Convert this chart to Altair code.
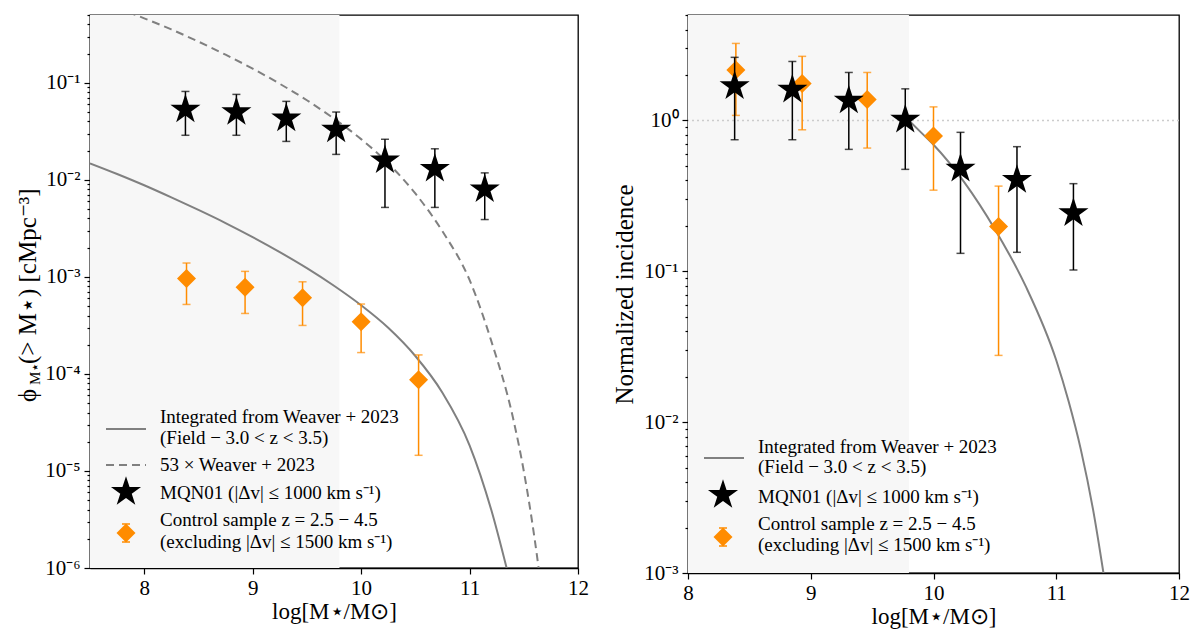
import altair as alt
import pandas as pd

# ---- values ----
mass_limit = 9.8

star_x = [8.38, 8.85, 9.31, 9.77, 10.22, 10.68, 11.14]
star_phi = [0.053, 0.050, 0.043, 0.033, 0.0159, 0.0130, 0.0080]
star_phi_lo = [0.0288, 0.0288, 0.0249, 0.0183, 0.0052, 0.0052, 0.0039]
star_phi_hi = [0.0815, 0.076, 0.0644, 0.050, 0.0262, 0.0209, 0.0118]

ctrl_x = [8.39, 8.93, 9.46, 10.0, 10.53]
ctrl_phi = [9.6e-4, 7.8e-4, 6.1e-4, 3.45e-4, 8.7e-5]
ctrl_phi_lo = [5.2e-4, 4.2e-4, 3.16e-4, 1.66e-4, 1.45e-5]
ctrl_phi_hi = [1.39e-3, 1.14e-3, 8.9e-4, 5.25e-4, 1.57e-4]

star_inc = [1.685, 1.60, 1.355, 1.013, 0.479, 0.403, 0.243]
star_inc_lo = [0.745, 0.745, 0.643, 0.474, 0.1315, 0.1336, 0.102]
star_inc_hi = [2.62, 2.46, 2.08, 1.62, 0.834, 0.67, 0.381]

ctrl_inc = [2.16, 1.76, 1.376, 0.788, 0.198]
ctrl_inc_lo = [1.08, 0.867, 0.656, 0.345, 0.0277]
ctrl_inc_hi = [3.24, 2.66, 2.08, 1.23, 0.367]

# integrated Weaver+2023 curve (left panel)
weaver_x = [7.5, 7.75, 8.0, 8.25, 8.5, 8.75, 9.0, 9.25, 9.5, 9.75,
            10.0, 10.25, 10.5, 10.75, 11.0, 11.2, 11.36]
weaver_phi = [1.48e-2, 1.15e-2, 8.8e-3, 6.6e-3, 4.9e-3, 3.59e-3, 2.57e-3, 1.80e-3,
              1.23e-3, 8.1e-4, 5.1e-4, 2.99e-4, 1.53e-4, 6.4e-5, 1.84e-5, 3.98e-6, 8.3e-7]

# 53 x Weaver+2023 (dashed)
scaled_x = [7.85, 8.0, 8.25, 8.5, 8.75, 9.0, 9.25, 9.5, 9.75, 10.0,
            10.25, 10.5, 10.75, 11.0, 11.2, 11.4, 11.5, 11.6, 11.68]
scaled_phi = [0.537, 0.462, 0.355, 0.266, 0.195, 0.140, 0.0977, 0.0661, 0.0427, 0.0263,
              0.0148, 7.24e-3, 2.95e-3, 9.3e-4, 2.19e-4, 3.55e-5, 1.0e-5, 2.0e-6, 4.2e-7]

# normalised curve (right panel)
norm_x = [9.8, 9.9, 10.0, 10.25, 10.5, 10.75, 11.0, 11.1, 11.2, 11.3, 11.4]
norm_inc = [1.0, 0.83, 0.69, 0.39, 0.19, 0.08, 0.0257, 0.0138, 0.0066, 0.00263, 8.3e-4]

x_ticks = [8, 9, 10, 11, 12]

legend_weaver = ["Integrated from Weaver + 2023", "(Field − 3.0 < z < 3.5)"]
legend_scaled = "53 ×  Weaver + 2023"
legend_mqn = "MQN01 (|Δv| ≤ 1000 km s⁻¹)"
legend_ctrl = ["Control sample z = 2.5 − 4.5", "(excluding |Δv| ≤ 1500 km s⁻¹)"]

# ---- style ----
SERIF = "Liberation Serif"
GREY = "#808080"
ORANGE = "#ff8c00"
SHADE = "#f7f7f7"
STAR = ("M0,-1L0.2245,-0.309L0.9511,-0.309L0.3633,0.118L0.5878,0.809L0,0.382"
        "L-0.5878,0.809L-0.3633,0.118L-0.9511,-0.309L-0.2245,-0.309Z")
DIAMOND = "M-1,0L0,-1L1,0L0,1Z"
STAR_SIZE, DIA_SIZE = 1000, 361

LW, LH = 488, 553
RW, RH = 491, 558

LOGE = "round(log(datum.value)/LN10)"
DEC = f"abs(log(datum.value)/LN10 - {LOGE}) < 0.001"
LABEL = (f"{DEC} ? '10' + ({LOGE} < 0 ? '⁻' : '') + "
         f"['⁰','¹','²','³','⁴','⁵','⁶'][abs({LOGE})] : ''")
TICK = {"condition": {"test": DEC, "value": 6}, "value": 3}
LABEL_SIZE = {"condition": {"test": DEC, "value": 21}, "value": 0}


def log_ticks(lo, hi, top):
    return [k * 10.0 ** e for e in range(lo, hi + 1) for k in range(1, 10)
            if k * 10.0 ** e <= top * 1.0001]


ONE = pd.DataFrame({"k": [0]})


def y_axis(values, title=None):
    kw = dict(values=values, labelExpr=LABEL, tickSize=TICK, labelOverlap=False,
              labelPadding=4, labelFontSize=LABEL_SIZE)
    if title:
        kw.update(title=title, titleFontSize=25, titlePadding=6)
    else:
        kw.update(title=None)
    return alt.Axis(**kw)


def panel(xdom, ydom, yvals, ytitle, w, h, curves, stars, ctrls, extra, legend):
    xs = alt.Scale(domain=xdom, nice=False, zero=False)
    ys = alt.Scale(type="log", domain=ydom, nice=False)
    xa = alt.Axis(values=x_ticks, format="d", title="log[M⋆/M⊙]", tickSize=6,
                  labelPadding=3, labelFontSize=21, titleFontSize=23, titlePadding=2,
                  labelFlush=False)
    ya = y_axis(yvals, ytitle)

    def X(f):
        return alt.X(f"{f}:Q", scale=xs, axis=xa)

    def Y(f):
        return alt.Y(f"{f}:Q", scale=ys, axis=ya)

    shade = alt.Chart(pd.DataFrame({"a": [xdom[0]], "b": [mass_limit]})).mark_rect(
        color=SHADE).encode(x=X("a"), x2="b:Q", y=alt.value(0), y2=alt.value(h))

    layers = [shade] + extra(X, Y)
    for df, dash in curves:
        m = alt.Chart(df).mark_line(color=GREY, strokeWidth=2, clip=True,
                                    interpolate="monotone",
                                    **({"strokeDash": [8, 5]} if dash else {}))
        layers.append(m.encode(x=X("m"), y=Y("v")))

    for df, col, shape, size in (ctrls + stars):
        base = alt.Chart(df)
        layers += [
            base.mark_rule(color=col, strokeWidth=1.5).encode(x=X("m"), y=Y("lo"), y2="hi:Q"),
            base.mark_tick(color=col, orient="horizontal", size=8, thickness=1.5).encode(
                x=X("m"), y=Y("lo")),
            base.mark_tick(color=col, orient="horizontal", size=8, thickness=1.5).encode(
                x=X("m"), y=Y("hi")),
            base.mark_point(shape=shape, filled=True, size=size, color=col, opacity=1).encode(
                x=X("m"), y=Y("v")),
        ]
    layers += legend
    return alt.layer(*layers).properties(width=w, height=h)


def txt(s, x, y, size=19, angle=0):
    return alt.Chart(ONE).mark_text(text=s, font=SERIF, fontSize=size, align="left",
                                    baseline="middle", color="black", angle=angle).encode(
        x=alt.value(x), y=alt.value(y))


def sample_line(x, y, dash=False):
    kw = {"strokeDash": [8, 5]} if dash else {}
    return alt.Chart(ONE).mark_rule(color=GREY, strokeWidth=2, **kw).encode(
        x=alt.value(x), x2=alt.value(x + 40), y=alt.value(y))


def sample_point(shape, size, col, x, y):
    return alt.Chart(ONE).mark_point(shape=shape, filled=True, size=size, color=col,
                                     opacity=1).encode(x=alt.value(x), y=alt.value(y))


def sample_err(x, y):
    r = alt.Chart(ONE).mark_rule(color=ORANGE, strokeWidth=1.5)
    return [r.encode(x=alt.value(x), y=alt.value(y - 9), y2=alt.value(y + 9)),
            r.encode(x=alt.value(x - 4), x2=alt.value(x + 4), y=alt.value(y - 9)),
            r.encode(x=alt.value(x - 4), x2=alt.value(x + 4), y=alt.value(y + 9))]


# ---- left panel ----
stars_l = pd.DataFrame({"m": star_x, "v": star_phi, "lo": star_phi_lo, "hi": star_phi_hi})
ctrls_l = pd.DataFrame({"m": ctrl_x, "v": ctrl_phi, "lo": ctrl_phi_lo, "hi": ctrl_phi_hi})

legend_l = [
    sample_line(16, 414), txt(legend_weaver[0], 70, 402), txt(legend_weaver[1], 70, 423),
    sample_line(16, 450, dash=True), txt(legend_scaled, 70, 450),
    sample_point(STAR, STAR_SIZE, "black", 36, 477), txt(legend_mqn, 70, 478),
    *sample_err(36, 518), sample_point(DIAMOND, DIA_SIZE, ORANGE, 36, 518),
    txt(legend_ctrl[0], 70, 505), txt(legend_ctrl[1], 70, 527),
    # y title with subscript
    txt("ϕ", -62, 387, size=25, angle=270),
    txt("M⋆", -55, 370, size=15, angle=270),
    txt("(> M⋆) [cMpc⁻³]", -62, 349, size=25, angle=270),
    # keeps the left frame a few pixels lower than the right one
    alt.Chart(ONE).mark_rule(strokeOpacity=0).encode(
        x=alt.value(0), y=alt.value(-4.7), y2=alt.value(0)),
]

left = panel(
    [7.5, 12], [1e-6, 0.5], log_ticks(-6, -1, 0.5), None, LW, LH,
    [(pd.DataFrame({"m": weaver_x, "v": weaver_phi}), False),
     (pd.DataFrame({"m": scaled_x, "v": scaled_phi}), True)],
    [(stars_l, "black", STAR, STAR_SIZE)],
    [(ctrls_l, ORANGE, DIAMOND, DIA_SIZE)],
    lambda X, Y: [],
    legend_l,
)

# ---- right panel ----
stars_r = pd.DataFrame({"m": star_x, "v": star_inc, "lo": star_inc_lo, "hi": star_inc_hi})
ctrls_r = pd.DataFrame({"m": ctrl_x, "v": ctrl_inc, "lo": ctrl_inc_lo, "hi": ctrl_inc_hi})


def unity(X, Y):
    return [alt.Chart(pd.DataFrame({"v": [1.0]})).mark_rule(
        color="#cccccc", strokeDash=[2, 3], strokeWidth=1.5).encode(y=Y("v"))]


legend_r = [
    sample_line(16, 443), txt(legend_weaver[0], 70, 432), txt(legend_weaver[1], 70, 452),
    sample_point(STAR, STAR_SIZE, "black", 35, 480), txt(legend_mqn, 70, 482),
    *sample_err(35, 522), sample_point(DIAMOND, DIA_SIZE, ORANGE, 35, 522),
    txt(legend_ctrl[0], 70, 509), txt(legend_ctrl[1], 70, 530),
]

right = panel(
    [8, 12], [1e-3, 5], log_ticks(-3, 0, 5), "Normalized incidence", RW, RH,
    [(pd.DataFrame({"m": norm_x, "v": norm_inc}), False)],
    [(stars_r, "black", STAR, STAR_SIZE)],
    [(ctrls_r, ORANGE, DIAMOND, DIA_SIZE)],
    unity,
    legend_r,
)

chart = alt.hconcat(left, right, spacing=22).properties(
    padding={"left": 7, "top": 1, "right": 0, "bottom": 0}
).configure_view(
    stroke="black", strokeWidth=1.3
).configure_axis(
    labelFont=SERIF, titleFont=SERIF, labelColor="black", titleColor="black",
    domainColor="black", tickColor="black", domainWidth=1.3, tickWidth=1.2,
    grid=False, titleFontWeight="normal"
)

chart.save("out.html", embed_options={"renderer": "svg", "actions": False})
